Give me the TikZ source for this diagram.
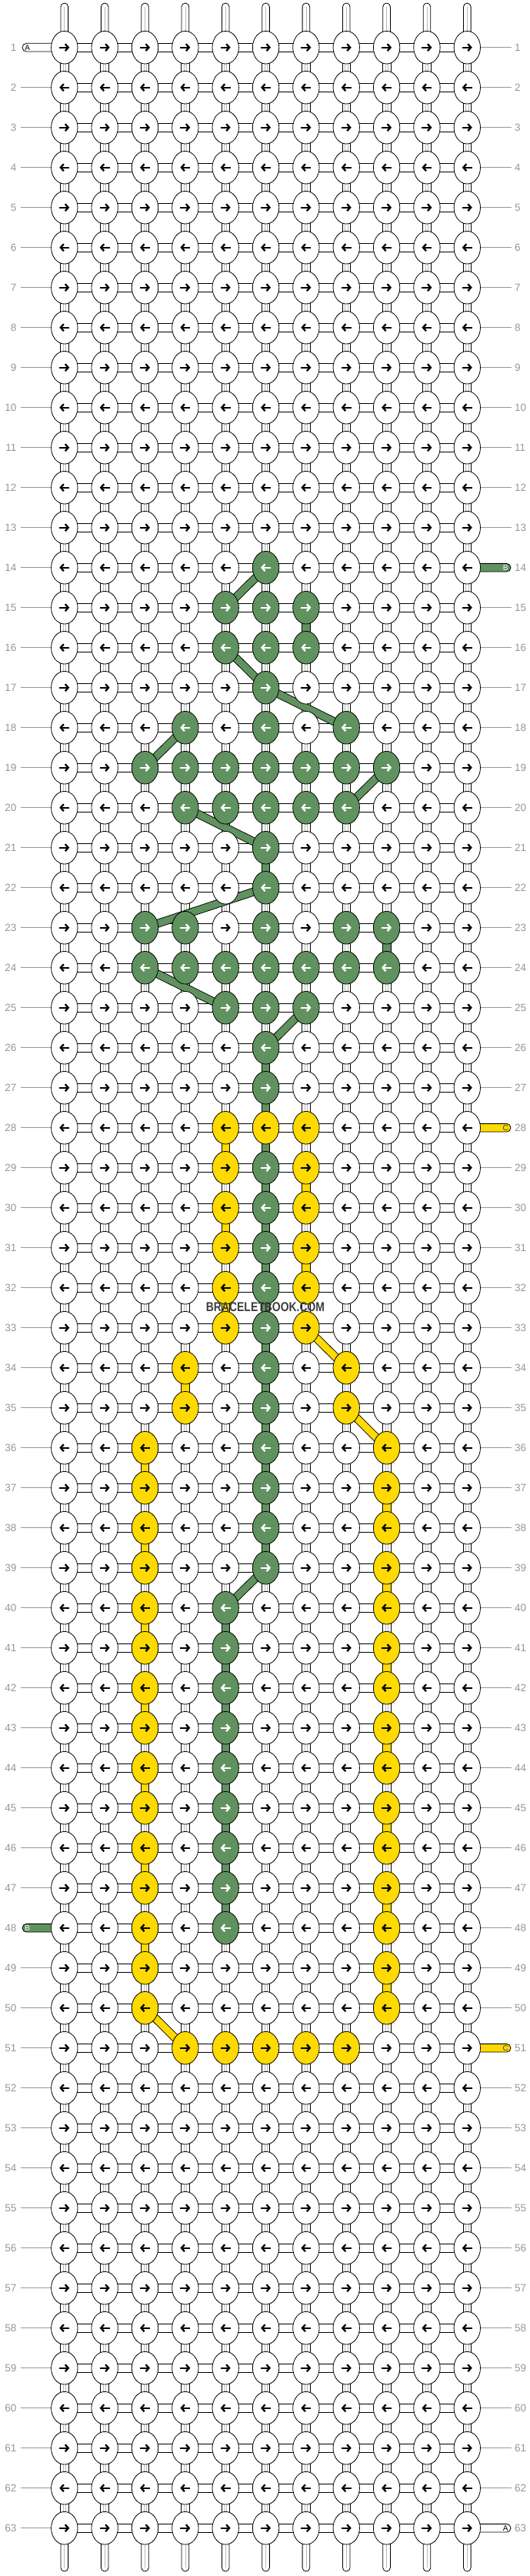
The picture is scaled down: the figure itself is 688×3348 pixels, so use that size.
\documentclass[tikz,border=0pt]{standalone}
\usepackage{fontspec}
\setmainfont{Liberation Sans}
\usetikzlibrary{arrows.meta,shapes.geometric}
\definecolor{kgreen}{RGB}{96,146,96}
\definecolor{kyellow}{RGB}{255,218,0}
\definecolor{lblgrey}{RGB}{150,150,150}
\definecolor{strgrey}{RGB}{185,185,185}
\definecolor{wmgrey}{RGB}{60,60,60}
\definecolor{tabtxt}{RGB}{60,60,60}

\newcommand\markknots[3]{\foreach \cc in {#3}{\expandafter\xdef\csname kc-#2-\cc\endcsname{#1}}}
\newcommand\kvcon[4]{\draw[#1] ([xshift=-5.3pt]p-#2-#4) rectangle ([xshift=5.3pt]p-#3-#4);}
\newcommand\kdiag[3]{\draw[line width=10.8pt,black] (p-#2) -- (p-#3);\draw[line width=9pt,#1] (p-#2) -- (p-#3);}

% green knots
\markknots{g}{14}{6}
\markknots{g}{15}{5,6,7}
\markknots{g}{16}{5,6,7}
\markknots{g}{17}{6}
\markknots{g}{18}{4,6,8}
\markknots{g}{19}{3,4,5,6,7,8,9}
\markknots{g}{20}{4,5,6,7,8}
\markknots{g}{21}{6}
\markknots{g}{22}{6}
\markknots{g}{23}{3,4,6,8,9}
\markknots{g}{24}{3,4,5,6,7,8,9}
\markknots{g}{25}{5,6,7}
\markknots{g}{26}{6}
\markknots{g}{27}{6}
\foreach \rr in {29,...,39}{\markknots{g}{\rr}{6}}
\foreach \rr in {40,...,48}{\markknots{g}{\rr}{5}}
% yellow knots
\markknots{y}{28}{5,6,7}
\foreach \rr in {29,...,33}{\markknots{y}{\rr}{5,7}}
\markknots{y}{34}{4,8}
\markknots{y}{35}{4,8}
\foreach \rr in {36,...,50}{\markknots{y}{\rr}{3,9}}
\markknots{y}{51}{4,5,6,7,8}

\tikzset{
 knotw/.style={ellipse, draw=black, line width=0.8pt, fill=white, minimum width=34.4pt, minimum height=42.6pt, inner sep=0pt},
 knotg/.style={knotw, fill=kgreen},
 knoty/.style={knotw, fill=kyellow},
 arrw/.style={line width=2.3pt, black, -{Straight Barb[length=4pt,width=9pt]}},
 arry/.style={arrw},
 arrg/.style={arrw, white},
 hconn/.style={draw=black, line width=0.8pt, fill=white},
 vconn/.style={draw=black, line width=0.8pt, fill=white},
 vline/.style={strgrey, line width=0.7pt},
 gconn/.style={draw=black, line width=0.8pt, fill=kgreen},
 yconn/.style={draw=black, line width=0.8pt, fill=kyellow},
 capsule/.style={draw=black, line width=0.8pt, fill=white, rounded corners=4.8pt},
 lbl/.style={text=lblgrey, font=\fontsize{13.5}{14}\selectfont, inner sep=0pt},
 lblline/.style={lblgrey, line width=0.8pt},
 tabbox/.style={draw=black, line width=0.8pt, rounded corners=5.3pt},
 tabl/.style={font=\fontsize{10}{10}\selectfont, inner sep=0pt},
}

\begin{document}
\begin{tikzpicture}[x=1pt,y=-1pt]
\useasboundingbox (0,0) rectangle (688,3348);
% centres
\foreach \r in {1,...,63}{\foreach \c in {1,...,11}{\coordinate (p-\r-\c) at ({83.8+52.35*(\c-1)},{61.7+52*(\r-1)});}}
% top and bottom strands
\foreach \c in {1,...,11}{
 \coordinate (top-\c) at ({83.8+52.35*(\c-1)},4);
 \coordinate (bot-\c) at ({83.8+52.35*(\c-1)},3342);
 \draw[capsule] ([xshift=-4.8pt]top-\c) rectangle ([xshift=4.8pt]p-1-\c);
 \draw[vline] ([yshift=-5pt]top-\c) -- (p-1-\c);
 \draw[capsule] ([xshift=-4.8pt]p-63-\c) rectangle ([xshift=4.8pt]bot-\c);
 \draw[vline] (p-63-\c) -- ([yshift=5pt]bot-\c);
}
% horizontal connectors
\foreach \r in {1,...,63}{\foreach \c [evaluate=\c as \n using int(\c+1)] in {1,...,10}{
 \draw[hconn] ([yshift=-5.35pt]p-\r-\c) rectangle ([yshift=5.35pt]p-\r-\n);}}
% vertical connectors
\foreach \r [evaluate=\r as \n using int(\r+1)] in {1,...,62}{\foreach \c in {1,...,11}{
 \draw[vconn] ([xshift=-5.3pt]p-\r-\c) rectangle ([xshift=5.3pt]p-\n-\c);
 \draw[vline] ([xshift=-1.6pt]p-\r-\c) -- ([xshift=-1.6pt]p-\n-\c);
 \draw[vline] ([xshift=1.6pt]p-\r-\c) -- ([xshift=1.6pt]p-\n-\c);}}
% coloured vertical connectors
\kvcon{gconn}{15}{16}{7}
\kvcon{gconn}{21}{22}{6}
\kvcon{gconn}{23}{24}{9}
\foreach \r [evaluate=\r as \n using int(\r+1)] in {26,...,38}{\kvcon{gconn}{\r}{\n}{6}}
\foreach \r [evaluate=\r as \n using int(\r+1)] in {40,...,47}{\kvcon{gconn}{\r}{\n}{5}}
\kvcon{yconn}{28}{29}{5}
\kvcon{yconn}{29}{30}{7}
\kvcon{yconn}{30}{31}{5}
\kvcon{yconn}{31}{32}{7}
\kvcon{yconn}{32}{33}{5}
\kvcon{yconn}{34}{35}{4}
\foreach \r [evaluate=\r as \n using int(\r+1)] in {36,38,...,48}{\kvcon{yconn}{\r}{\n}{3}}
\foreach \r [evaluate=\r as \n using int(\r+1)] in {37,39,...,49}{\kvcon{yconn}{\r}{\n}{9}}
% diagonal strands
\kdiag{kgreen}{14-6}{15-5}
\kdiag{kgreen}{16-5}{17-6}
\kdiag{kgreen}{17-6}{18-8}
\kdiag{kgreen}{18-4}{19-3}
\kdiag{kgreen}{19-9}{20-8}
\kdiag{kgreen}{20-4}{21-6}
\kdiag{kgreen}{22-6}{23-3}
\kdiag{kgreen}{24-3}{25-5}
\kdiag{kgreen}{25-7}{26-6}
\kdiag{kgreen}{39-6}{40-5}
\kdiag{kyellow}{33-7}{34-8}
\kdiag{kyellow}{35-8}{36-9}
\kdiag{kyellow}{50-3}{51-4}
% row labels and lines
\foreach \r in {1,...,63}{
 \node[lbl, anchor=east] (ll-\r) at (21.5,{61.7+52*(\r-1)}) {\r};
 \node[lbl, anchor=west] (lr-\r) at (669,{61.7+52*(\r-1)}) {\r};
 \ifnum\r=1 \else\ifnum\r=48 \else \draw[lblline] ([xshift=5pt]ll-\r.east) -- (p-\r-1);\fi\fi
 \ifnum\r=14 \else\ifnum\r=28 \else\ifnum\r=51 \else\ifnum\r=63 \else \draw[lblline] (p-\r-11) -- ([xshift=-4pt]lr-\r.west);\fi\fi\fi\fi
}
% tabs
\draw[tabbox, fill=white] ([xshift=-54.8pt,yshift=-5.35pt]p-1-1) rectangle ([xshift=5pt,yshift=5.35pt]p-1-1);
\node[tabl, text=black] (tA1) at ([xshift=-48pt]p-1-1) {A};
\draw[tabbox, fill=kgreen] ([xshift=-54.8pt,yshift=-5.35pt]p-48-1) rectangle ([xshift=5pt,yshift=5.35pt]p-48-1);
\node[tabl, text=white] (tB2) at ([xshift=-48pt]p-48-1) {B};
\draw[tabbox, fill=kgreen] ([xshift=-5pt,yshift=-5.35pt]p-14-11) rectangle ([xshift=56.7pt,yshift=5.35pt]p-14-11);
\node[tabl, text=white] (tB1) at ([xshift=50pt]p-14-11) {B};
\draw[tabbox, fill=kyellow] ([xshift=-5pt,yshift=-5.35pt]p-28-11) rectangle ([xshift=56.7pt,yshift=5.35pt]p-28-11);
\node[tabl, text=tabtxt] (tC1) at ([xshift=50pt]p-28-11) {C};
\draw[tabbox, fill=kyellow] ([xshift=-5pt,yshift=-5.35pt]p-51-11) rectangle ([xshift=56.7pt,yshift=5.35pt]p-51-11);
\node[tabl, text=tabtxt] (tC2) at ([xshift=50pt]p-51-11) {C};
\draw[tabbox, fill=white] ([xshift=-5pt,yshift=-5.35pt]p-63-11) rectangle ([xshift=56.7pt,yshift=5.35pt]p-63-11);
\node[tabl, text=black] (tA2) at ([xshift=50pt]p-63-11) {A};
% knots
\foreach \r in {1,...,63}{\foreach \c in {1,...,11}{
 \ifcsname kc-\r-\c\endcsname \edef\kc{\csname kc-\r-\c\endcsname}\else \def\kc{w}\fi
 \ifodd\r \def\as{-6.5pt}\def\ae{6.5pt}\else \def\as{6.5pt}\def\ae{-6.5pt}\fi
 \edef\doknot{\noexpand\node[knot\kc] (k-\r-\c) at (p-\r-\c) {};
   \noexpand\draw[arr\kc] ([xshift=\as]k-\r-\c.center) -- ([xshift=\ae]k-\r-\c.center);}
 \doknot
}}
% watermark
\node[inner sep=0pt, text=wmgrey, font=\bfseries\fontsize{16.8}{17}\selectfont] (wm) at (345,1699) {\scalebox{0.83}[1]{BRACELETBOOK.COM}};
\end{tikzpicture}
\end{document}
